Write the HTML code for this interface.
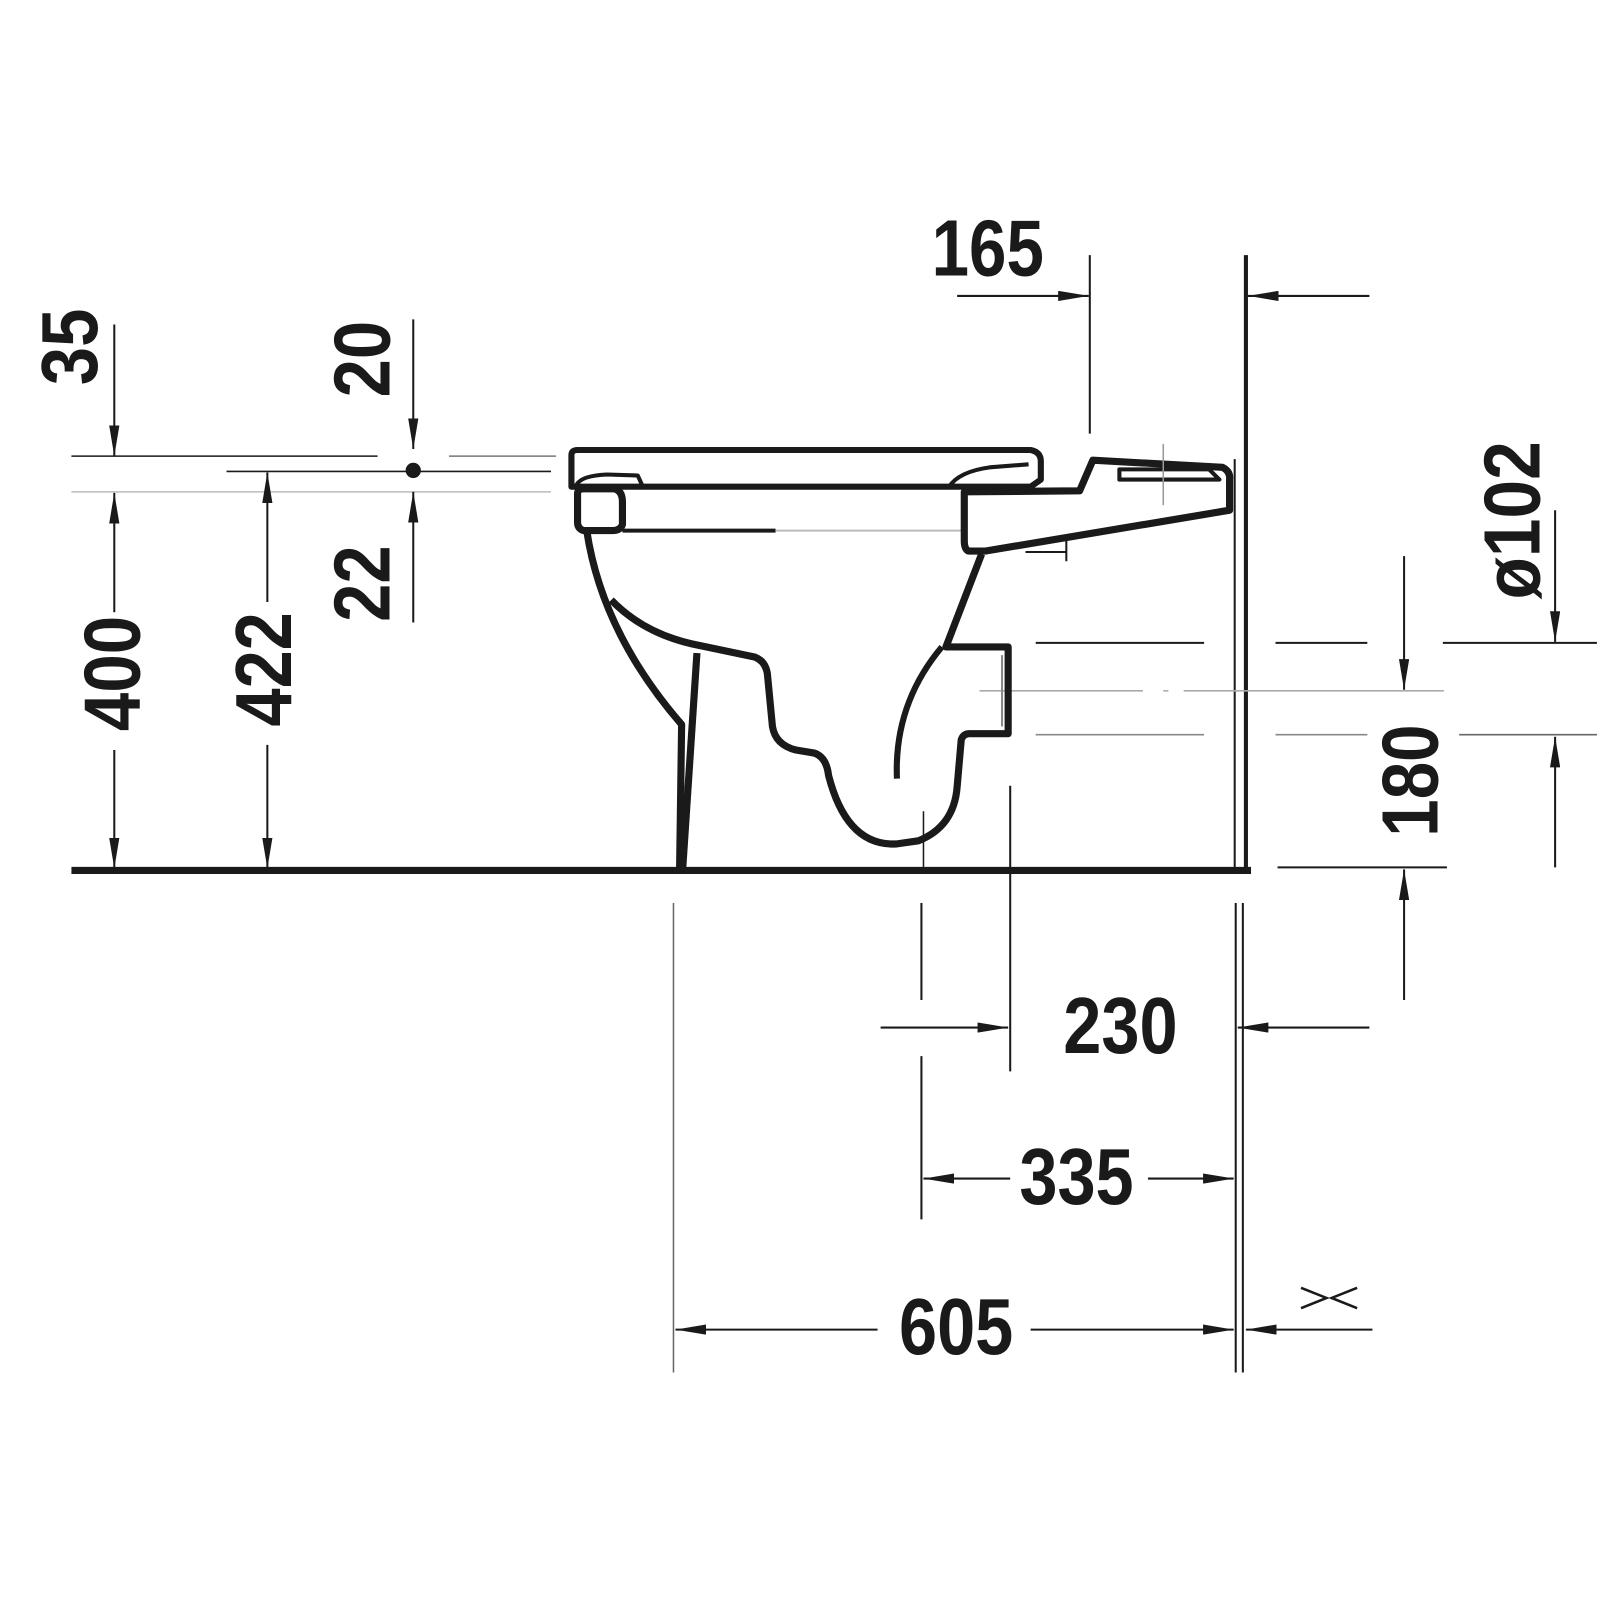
<!DOCTYPE html>
<html><head><meta charset="utf-8"><style>
html,body{margin:0;padding:0;background:#fff;}
svg{display:block}
text{font-family:"Liberation Sans Narrow","Liberation Sans",sans-serif;font-weight:bold;font-size:78px;fill:#1a1a1a;text-anchor:middle;dominant-baseline:central}
</style></head><body>
<svg width="1600" height="1600" viewBox="0 0 1568 1568" xmlns="http://www.w3.org/2000/svg">
<defs>
<marker id="a" viewBox="0 0 30 10" refX="30" refY="5" markerWidth="30" markerHeight="10" markerUnits="userSpaceOnUse" orient="auto">
<path d="M0,0 L30,5 L0,10 z" fill="#1a1a1a"/></marker>
</defs>
<g stroke="#1a1a1a" fill="none">
<line x1="70" y1="853" x2="1226" y2="853" stroke-width="7"/>
<line x1="1221" y1="250" x2="1221" y2="856" stroke-width="4"/>
<line x1="1210" y1="450" x2="1210" y2="853" stroke-width="2"/>
<line x1="1211" y1="885" x2="1211" y2="1345" stroke-width="2"/>
<line x1="1218" y1="885" x2="1218" y2="1345" stroke-width="2"/>
<line x1="70" y1="447" x2="370" y2="447" stroke-width="1.5"/>
<line x1="440" y1="447" x2="545" y2="447" stroke-width="1.5" stroke="#777"/>
<line x1="222" y1="462" x2="540" y2="462" stroke-width="1.5"/>
<line x1="70" y1="482" x2="540" y2="482" stroke-width="1.5" stroke="#bbb"/>
<line x1="112" y1="318" x2="112" y2="447" stroke-width="2" marker-end="url(#a)"/>
<line x1="112" y1="600" x2="112" y2="483" stroke-width="2" marker-end="url(#a)"/>
<line x1="112" y1="735" x2="112" y2="851" stroke-width="2" marker-end="url(#a)"/>
<line x1="262" y1="590" x2="262" y2="463" stroke-width="2" marker-end="url(#a)"/>
<line x1="262" y1="730" x2="262" y2="851" stroke-width="2" marker-end="url(#a)"/>
<line x1="405" y1="313" x2="405" y2="440" stroke-width="2" marker-end="url(#a)"/>
<line x1="405" y1="610" x2="405" y2="482" stroke-width="2" marker-end="url(#a)"/>
<circle cx="405" cy="461" r="7" fill="#1a1a1a"/>
<line x1="938" y1="290" x2="1067" y2="290" stroke-width="2" marker-end="url(#a)"/>
<line x1="1068" y1="250" x2="1068" y2="425" stroke-width="2"/>
<line x1="1342" y1="290" x2="1223" y2="290" stroke-width="2" marker-end="url(#a)"/>
<line x1="1015" y1="630" x2="1180" y2="630" stroke-width="2"/>
<line x1="1250" y1="630" x2="1340" y2="630" stroke-width="2"/>
<line x1="960" y1="677" x2="1120" y2="677" stroke-width="1.5" stroke="#aaa"/>
<line x1="1140" y1="677" x2="1145" y2="677" stroke-width="1.5" stroke="#aaa"/>
<line x1="1160" y1="677" x2="1415" y2="677" stroke-width="1.5" stroke="#aaa"/>
<line x1="1015" y1="720" x2="1180" y2="720" stroke-width="1.5" stroke="#888"/>
<line x1="1250" y1="720" x2="1340" y2="720" stroke-width="1.5" stroke="#888"/>
<line x1="1414" y1="630" x2="1565" y2="630" stroke-width="2"/>
<line x1="1430" y1="720" x2="1565" y2="720" stroke-width="1.5" stroke="#666"/>
<line x1="1524" y1="500" x2="1524" y2="629" stroke-width="2" marker-end="url(#a)"/>
<line x1="1524" y1="850" x2="1524" y2="722" stroke-width="2" marker-end="url(#a)"/>
<line x1="1376" y1="545" x2="1376" y2="676" stroke-width="2" marker-end="url(#a)"/>
<line x1="1252" y1="850" x2="1418" y2="850" stroke-width="2"/>
<line x1="1376" y1="980" x2="1376" y2="852" stroke-width="2" marker-end="url(#a)"/>
<line x1="903" y1="885" x2="903" y2="980" stroke-width="2"/>
<line x1="903" y1="1035" x2="903" y2="1195" stroke-width="2"/>
<line x1="990" y1="770" x2="990" y2="1050" stroke-width="2"/>
<line x1="863" y1="1007" x2="988" y2="1007" stroke-width="2" marker-end="url(#a)"/>
<line x1="1342" y1="1007" x2="1213" y2="1007" stroke-width="2" marker-end="url(#a)"/>
<line x1="990" y1="1155" x2="905" y2="1155" stroke-width="2" marker-end="url(#a)"/>
<line x1="1125" y1="1155" x2="1209" y2="1155" stroke-width="2" marker-end="url(#a)"/>
<line x1="660" y1="885" x2="660" y2="1345" stroke-width="1.5" stroke="#666"/>
<line x1="860" y1="1303" x2="662" y2="1303" stroke-width="2" marker-end="url(#a)"/>
<line x1="1010" y1="1303" x2="1209" y2="1303" stroke-width="2" marker-end="url(#a)"/>
<line x1="1345" y1="1303" x2="1221" y2="1303" stroke-width="2" marker-end="url(#a)"/>
<path d="M1275,1262 L1300,1272 L1275,1282 M1330,1262 L1305,1272 L1330,1282" stroke-width="2.5"/>
<g stroke-width="7" stroke-linejoin="round">
<path d="M560,477 L560,446 Q560,441 566,441 L1010,441 Q1020,443 1020,452 L1020,470 L1010,477 Z" stroke-width="6"/>
<path d="M565,475 Q570,466 595,465 L625,466 L630,477" stroke-width="4"/>
<path d="M930,477 Q940,462 970,458 L1008,455" stroke-width="4"/>
<path d="M566,484 Q566,479 572,479 L602,479 Q610,481 610,492 L610,514 Q608,520 600,520 L572,520 Q566,518 566,512 Z"/>
<line x1="610" y1="520" x2="760" y2="520" stroke-width="4"/>
<line x1="760" y1="520" x2="945" y2="520" stroke-width="2" stroke="#bbb"/>
<path d="M945,482 L1058,481 L1071,451 L1198,458 Q1206,462 1205,470 L1205,500 L966,540 L949,540 Q945,538 945,530 Z"/>
<path d="M1097,460 L1185,460 L1195,470 L1097,470 Z" stroke-width="4"/>
<path d="M575,520 Q590,620 668,710 L666,852"/>
<path d="M599,588 Q630,620 678,631 L740,644 Q750,648 752,660 L757,712 Q760,730 780,735 L798,738 Q810,742 812,760 Q830,830 879,827 L900,824 Q935,810 938,771 L942,725 Q944,719 950,719 L988,719 L988,634 L927,634 L962,543"/>
<path d="M683,640 L669,852"/>
<path d="M879,763 Q876,690 923,634" stroke-width="6"/>
<line x1="1005" y1="541" x2="1045" y2="541" stroke-width="2"/>
<line x1="1045" y1="530" x2="1045" y2="550" stroke-width="2"/>
<line x1="982" y1="642" x2="982" y2="712" stroke-width="2" stroke="#888"/>
</g>
<line x1="1140" y1="435" x2="1140" y2="495" stroke-width="1.5" stroke="#999"/>
<line x1="905" y1="795" x2="905" y2="853" stroke-width="1.5"/>
</g>
<g>
<text transform="translate(68,340) rotate(-90)" textLength="75" lengthAdjust="spacingAndGlyphs">35</text>
<text transform="translate(355,352) rotate(-90)" textLength="75" lengthAdjust="spacingAndGlyphs">20</text>
<text transform="translate(355,572) rotate(-90)" textLength="75" lengthAdjust="spacingAndGlyphs">22</text>
<text transform="translate(110,660) rotate(-90)" textLength="113" lengthAdjust="spacingAndGlyphs">400</text>
<text transform="translate(258,656) rotate(-90)" textLength="112" lengthAdjust="spacingAndGlyphs">422</text>
<text x="968" y="243" textLength="110" lengthAdjust="spacingAndGlyphs">165</text>
<text transform="translate(1482,510) rotate(-90)" textLength="155" lengthAdjust="spacingAndGlyphs">ø102</text>
<text transform="translate(1382,765) rotate(-90)" textLength="110" lengthAdjust="spacingAndGlyphs">180</text>
<text x="1098" y="1005" textLength="112" lengthAdjust="spacingAndGlyphs">230</text>
<text x="1055" y="1153" textLength="112" lengthAdjust="spacingAndGlyphs">335</text>
<text x="937" y="1300" textLength="112" lengthAdjust="spacingAndGlyphs">605</text>
</g>
</svg>
</body></html>
